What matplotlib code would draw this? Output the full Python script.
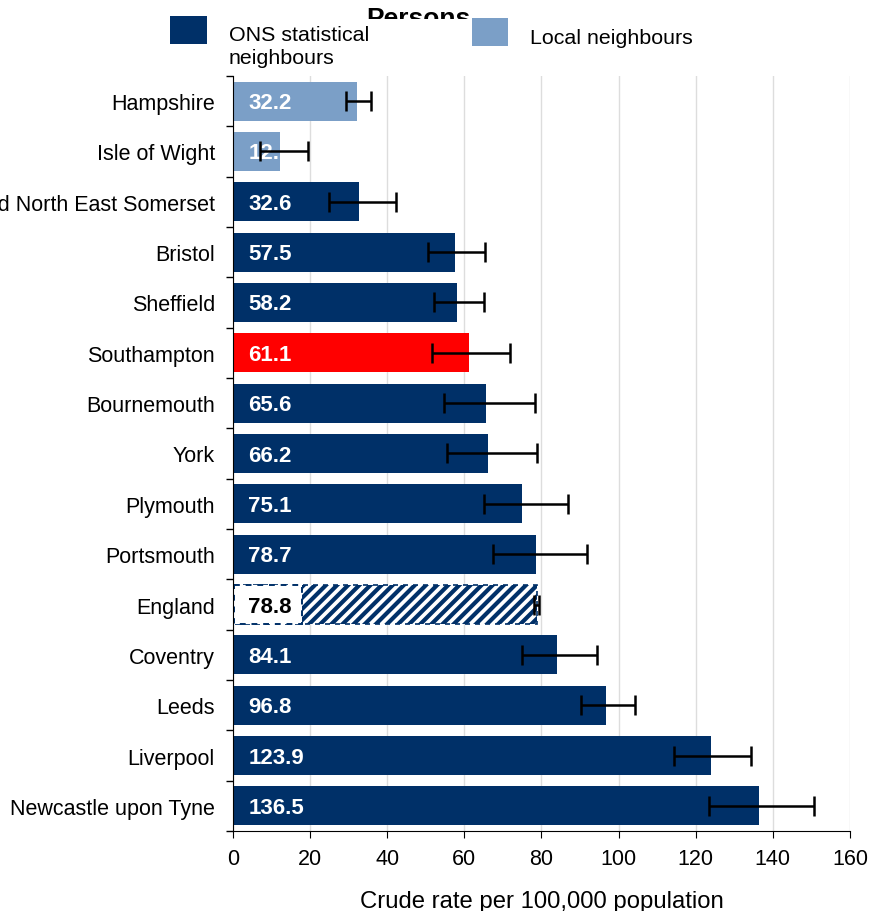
import matplotlib
matplotlib.use("Agg")
import matplotlib.pyplot as plt
from matplotlib.patches import Rectangle
import numpy as np

plt.rcParams['font.family'] = ['Liberation Sans', 'DejaVu Sans']
plt.rcParams['hatch.color'] = '#003068'
plt.rcParams['hatch.linewidth'] = 3.0

categories = ["Hampshire", "Isle of Wight", "Bath and North East Somerset", "Bristol",
              "Sheffield", "Southampton", "Bournemouth", "York", "Plymouth",
              "Portsmouth", "England", "Coventry", "Leeds", "Liverpool",
              "Newcastle upon Tyne"]
values = [32.2, 12.1, 32.6, 57.5, 58.2, 61.1, 65.6, 66.2, 75.1, 78.7, 78.8,
          84.1, 96.8, 123.9, 136.5]
ci_low = [29.3, 7.0, 24.9, 50.6, 52.1, 51.6, 54.7, 55.5, 65.1, 67.4, 78.2,
          74.9, 90.2, 114.4, 123.4]
ci_high = [35.8, 19.5, 42.3, 65.4, 65.1, 71.8, 78.3, 78.8, 86.9, 91.8, 79.5,
           94.4, 104.3, 134.3, 150.7]
groups = ["local", "local", "ons", "ons", "ons", "focus", "ons", "ons", "ons",
          "ons", "england", "ons", "ons", "ons", "ons"]

NAVY = "#003068"
LIGHT = "#7b9fc7"
RED = "#ff0000"
colors = {"local": LIGHT, "ons": NAVY, "focus": RED, "england": "white"}

fig = plt.figure(figsize=(8.69, 9.12), dpi=100)
ax = fig.add_axes([0.268, 0.0877, 0.710, 0.8279])

y = np.arange(len(categories))
BH = 0.78
for i, (v, g) in enumerate(zip(values, groups)):
    if g == "england":
        ax.barh(i, v, height=BH, color="white", edgecolor=NAVY, hatch="///",
                linewidth=1.2, linestyle=(0, (3, 3)), zorder=2)
        # white label panel at the start of the bar
        ax.barh(i, 17.5, height=BH, left=0.4, color="white", edgecolor=NAVY,
                linewidth=1.4, linestyle=(0, (3, 3)), zorder=2.5)
    else:
        ax.barh(i, v, height=BH, color=colors[g], edgecolor="none", zorder=2)

vals = np.array(values)
xerr = np.array([vals - np.array(ci_low), np.array(ci_high) - vals])
ax.errorbar(values, y, xerr=xerr, fmt="none", ecolor="black", elinewidth=1.8,
            capsize=7, capthick=1.8, zorder=4)

for i, (v, g) in enumerate(zip(values, groups)):
    col = "black" if g == "england" else "white"
    ax.text(4.0, i + 0.03, f"{v:.1f}", va="center", ha="left", fontsize=16,
            fontweight="bold", color=col, zorder=3)

ax.set_xlim(0, 160)
ax.set_ylim(len(categories) - 0.5, -0.5)
ax.set_xticks(np.arange(0, 161, 20))
ax.set_yticks(y)
ax.set_yticklabels(categories)
ax.set_yticks(np.arange(-0.5, len(categories), 1), minor=True)
ax.tick_params(axis="y", which="major", length=0, pad=13, labelsize=15.5)
ax.tick_params(axis="y", which="minor", length=5, width=1)
ax.tick_params(axis="x", which="major", length=5, labelsize=15.5, pad=7)
ax.xaxis.grid(True, color="#dddddd", linewidth=1, zorder=0)
ax.set_axisbelow(True)
for s in ["top", "right"]:
    ax.spines[s].set_visible(False)
ax.spines["left"].set_color("black")
ax.spines["bottom"].set_color("black")
ax.set_xlabel("Crude rate per 100,000 population", fontsize=17.2, labelpad=15)

# Title (partially hidden by legend)
fig.text(0.481, 1 - 19 / 912, "Persons", ha="center", va="center", fontsize=19,
         fontweight="bold", zorder=1)
# Legend background
fig.add_artist(Rectangle((0.18, 1 - 76 / 912), 0.65, 56 / 912, transform=fig.transFigure,
                         facecolor="white", edgecolor="none", zorder=2))
fig.add_artist(Rectangle((170 / 869, 1 - 45 / 912), 37 / 869, 28 / 912,
                         transform=fig.transFigure, facecolor=NAVY,
                         edgecolor="none", zorder=3))
fig.text(229 / 869, 1 - 26 / 912, "ONS statistical\nneighbours", ha="left",
         va="top", fontsize=15.4, linespacing=1.3, zorder=3)
fig.add_artist(Rectangle((472 / 869, 1 - 47 / 912), 36 / 869, 28 / 912,
                         transform=fig.transFigure, facecolor=LIGHT,
                         edgecolor="none", zorder=3))
fig.text(530 / 869, 1 - 38 / 912, "Local neighbours", ha="left", va="center",
         fontsize=15.4, zorder=3)

fig.savefig("out.png", dpi=100)
